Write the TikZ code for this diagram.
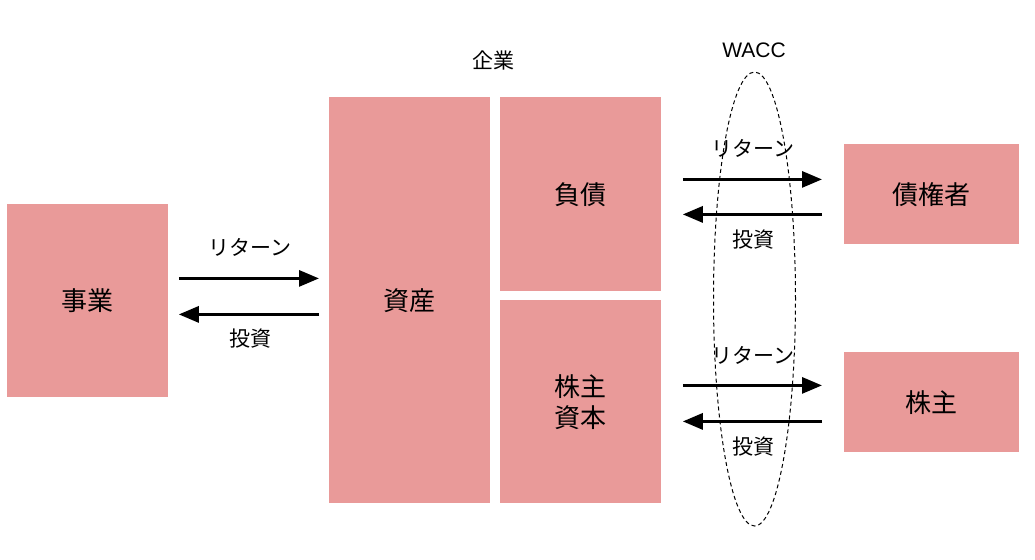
\documentclass[tikz,border=0pt]{standalone}
\usepackage{fontspec}
\setmainfont{Noto Sans CJK JP}
\newfontfamily\latinfont{Liberation Sans}
\usetikzlibrary{arrows.meta}
\definecolor{boxpink}{HTML}{E99A99}
\tikzset{
  box/.style={fill=boxpink, draw=none, inner sep=0pt, anchor=north west, font=\fontsize{13}{15.5}\selectfont, align=center},
  lbl/.style={font=\fontsize{10.5}{12}\selectfont, inner sep=0pt},
  flow/.style={line width=1.5pt, -{Triangle[length=10pt,width=8pt]}}
}
\begin{document}
\begin{tikzpicture}[x=0.5pt,y=-0.5pt]
\useasboundingbox (0,0) rectangle (1035,559);
% boxes
\node[box, minimum width=80.5pt, minimum height=96.5pt] (jigyo) at (7,204) {事業};
\node[box, minimum width=80.5pt, minimum height=203pt] (shisan) at (329,97) {資産};
\node[box, minimum width=80.5pt, minimum height=97pt] (fusai) at (500,97) {負債};
\node[box, minimum width=80.5pt, minimum height=101.5pt] (shihon) at (500,300) {株主\\資本};
\node[box, minimum width=87.5pt, minimum height=50pt] (saikensha) at (844,144) {債権者};
\node[box, minimum width=87.5pt, minimum height=50pt] (kabunushi) at (844,352) {株主};
% labels
\node[lbl] (kigyo) at (493,60) {企業};
\node[lbl] (wacc) at (754,50) {\latinfont WACC};
\draw[dashed, line width=0.5pt, dash pattern=on 2pt off 1.5pt] (754.5,299) ellipse [x radius=20.5pt, y radius=113.5pt];
% left arrows
\draw[flow, shorten <=5pt, shorten >=5pt] ([yshift=11.25pt]jigyo.east) -- ([yshift=11.25pt]jigyo.east -| shisan.west);
\draw[flow, shorten <=5pt, shorten >=5pt] ([yshift=-6.75pt]jigyo.east -| shisan.west) -- ([yshift=-6.75pt]jigyo.east);
\node[lbl] (ret1) at (250,247) {リターン};
\node[lbl] (inv1) at (250,339) {投資};
% debt holders
\draw[flow, shorten <=10.5pt, shorten >=11pt] ([yshift=7.5pt]fusai.east) -- ([yshift=7.5pt]fusai.east -| saikensha.west);
\draw[flow, shorten <=11pt, shorten >=10.5pt] ([yshift=-10pt]fusai.east -| saikensha.west) -- ([yshift=-10pt]fusai.east);
\node[lbl] (ret2) at (753,148) {リターン};
\node[lbl] (inv2) at (753,240) {投資};
% shareholders
\draw[flow, shorten <=10.5pt, shorten >=11pt] ([yshift=8.25pt]shihon.east) -- ([yshift=8.25pt]shihon.east -| kabunushi.west);
\draw[flow, shorten <=11pt, shorten >=10.5pt] ([yshift=-9.75pt]shihon.east -| kabunushi.west) -- ([yshift=-9.75pt]shihon.east);
\node[lbl] (ret3) at (753,355) {リターン};
\node[lbl] (inv3) at (753,447) {投資};
\end{tikzpicture}
\end{document}
